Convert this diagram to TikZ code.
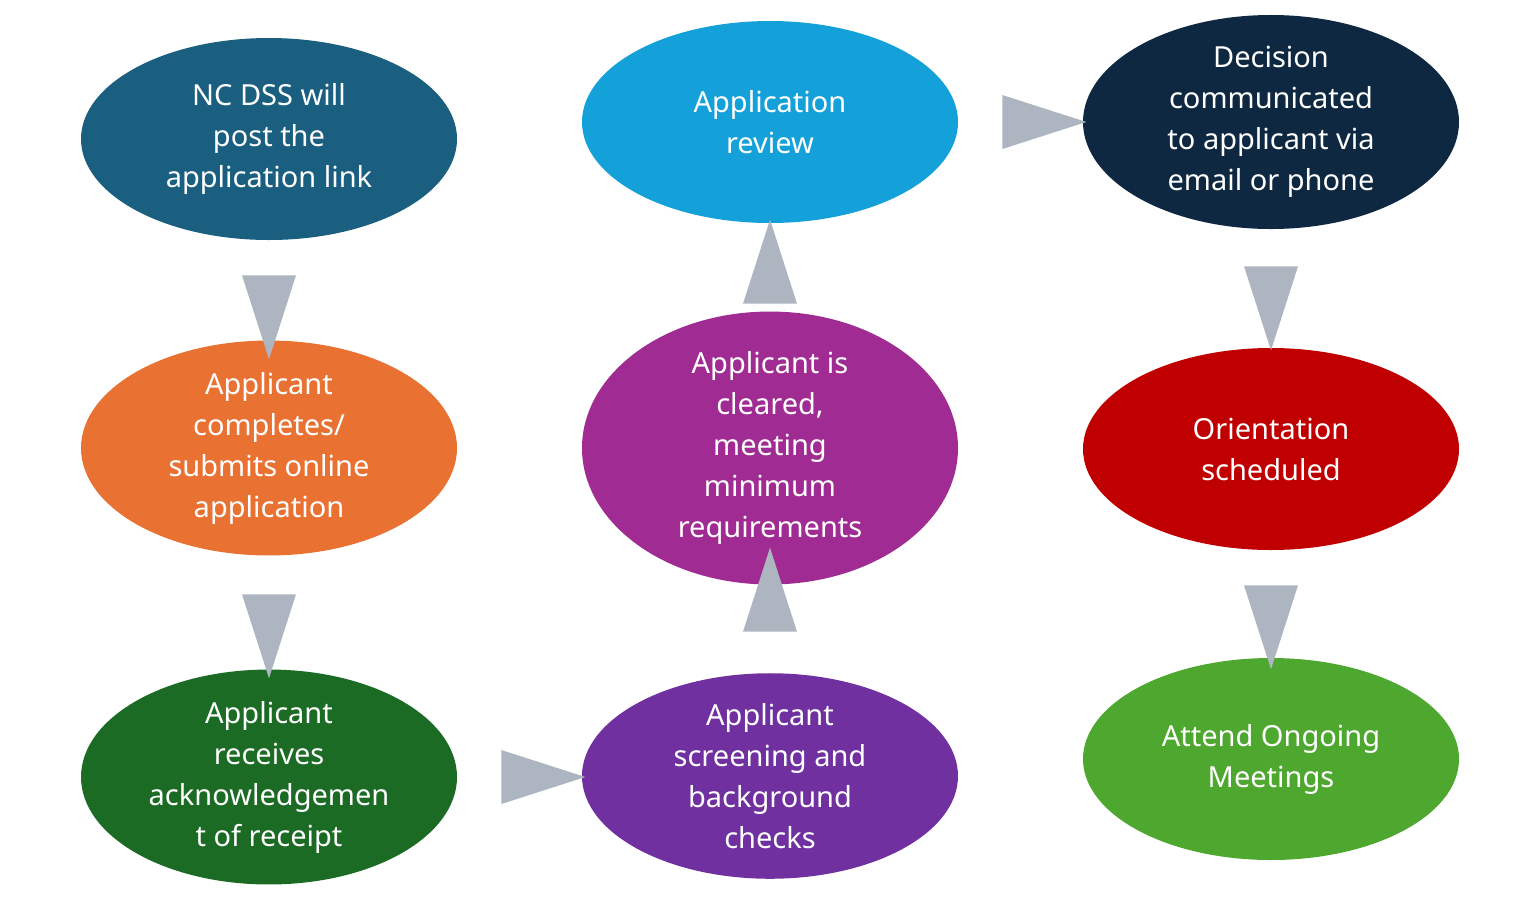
\documentclass[tikz,border=0pt]{standalone}
\usepackage{fontspec}
\setmainfont{Noto Sans}
\usetikzlibrary{shapes.geometric,positioning}
\definecolor{cTeal}{HTML}{1A5E80}
\definecolor{cOrange}{HTML}{E97132}
\definecolor{cGreen}{HTML}{1B6B24}
\definecolor{cBlue}{HTML}{14A0D8}
\definecolor{cMagenta}{HTML}{A02B93}
\definecolor{cViolet}{HTML}{7030A0}
\definecolor{cNavy}{HTML}{0E2841}
\definecolor{cRed}{HTML}{C00000}
\definecolor{cLime}{HTML}{4EA72E}
\definecolor{cArrow}{HTML}{ADB5C0}
\tikzset{
  step/.style={ellipse, draw=none, fill=#1, text=white, minimum width=376pt, minimum height=202pt,
    inner sep=0pt, align=center, font=\fontsize{29}{41}\selectfont},
  tri/.style={isosceles triangle, isosceles triangle stretches, fill=cArrow, draw=none, inner sep=0pt,
    minimum width=54pt, minimum height=84pt, shape border rotate=#1, anchor=center}
}
\begin{document}
\begin{tikzpicture}[x=1pt,y=-1pt]
\useasboundingbox (0,0) rectangle (1540,898);

\node (post)[step=cTeal] at (269,139) {NC DSS will\\post the\\application link};
\node (submit)[step=cOrange] at (269,448) {Applicant\\completes/\\submits online\\application};
\node (ack)[step=cGreen] at (269,777) {Applicant\\receives\\acknowledgemen\\t of receipt};

\node (screen)[step=cViolet] at (770,776) {Applicant\\screening and\\background\\checks};
\node (clear)[step=cMagenta] at (770,448) {Applicant is\\cleared,\\meeting\\minimum\\requirements};
\node (review)[step=cBlue] at (770,122) {Application\\review};

\node (decide)[step=cNavy] at (1271,122) {Decision\\communicated\\to applicant via\\email or phone};
\node (orient)[step=cRed] at (1271,449) {Orientation\\scheduled};
\node (meet)[step=cLime] at (1271,759) {Attend Ongoing\\Meetings};

% arrows between steps
\node (t1)[tri=270] at (269,295) {};
\node (t2)[tri=270] at (269,614) {};
\node (t3)[tri=0] at (521,777) {};
\node (t4)[tri=90] at (770,612) {};
\node (t5)[tri=90] at (770,284) {};
\node (t6)[tri=0] at (1022,122) {};
\node (t7)[tri=270] at (1271,286) {};
\node (t8)[tri=270] at (1271,605) {};
\end{tikzpicture}
\end{document}
